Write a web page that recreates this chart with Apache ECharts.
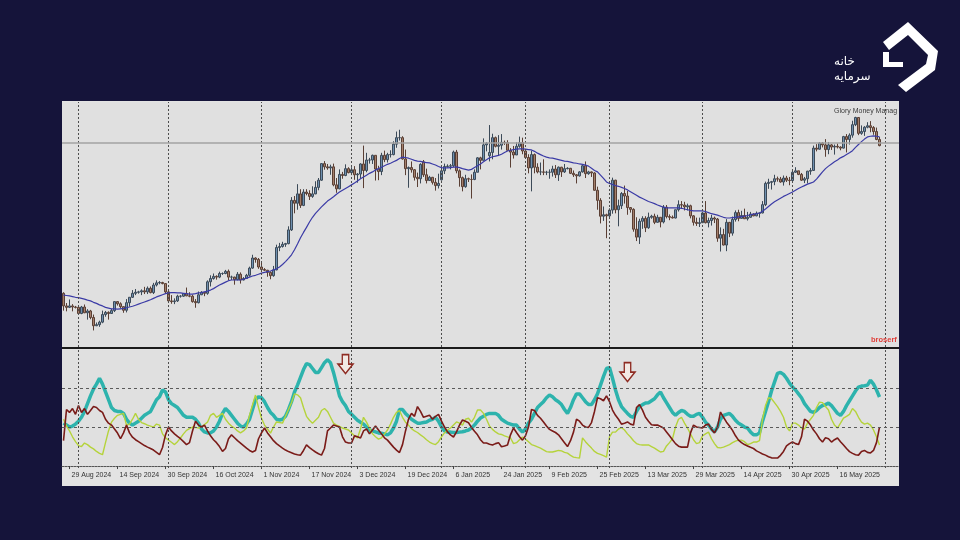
<!DOCTYPE html>
<html>
<head>
<meta charset="utf-8">
<script src="https://cdn.jsdelivr.net/npm/echarts/dist/echarts.min.js"></script>
<style>
html,body{margin:0;padding:0;background:#15143a;}
#chart{width:960px;height:540px;}
</style>
</head>
<body>
<div id="chart"></div>
<script>
// ---------- DATA (price in thousands USD, daily bars) ----------
const startDate = '2024-08-27';
const endDate = '2025-06-05';            // includes empty right-shift days
const skippedDates = ['2024-12-25', '2025-01-01', '2025-01-12', '2025-01-19'];
const monthStarts = ['2024-09-01','2024-10-01','2024-11-01','2024-12-01','2025-01-02','2025-02-01','2025-03-01','2025-04-01','2025-05-01','2025-06-01'];
const monthNames = ['Jan','Feb','Mar','Apr','May','Jun','Jul','Aug','Sep','Oct','Nov','Dec'];

// [open, high, low, close]
const ohlc = [
// Aug 27-31
[62.9,63.2,58.1,59.4],[59.4,60.2,57.9,59.0],[59.0,61.2,58.8,59.4],[59.4,59.9,57.9,59.1],[59.1,59.4,58.7,59.0],
// Sep
[59.0,59.1,57.2,57.3],[57.3,59.4,57.1,59.1],[59.1,59.8,57.4,57.5],[57.5,58.5,55.6,58.0],[58.0,58.3,55.7,56.2],
[56.2,57.0,52.6,53.9],[53.9,54.8,53.8,54.2],[54.2,55.3,53.6,54.9],[54.9,58.1,54.6,57.0],[57.0,58.0,56.4,57.6],
[57.6,57.9,55.6,57.3],[57.3,58.6,57.2,58.1],[58.1,60.6,57.7,60.6],[60.6,60.7,59.5,60.0],[60.0,60.4,58.7,59.2],
[59.2,59.3,57.5,58.2],[58.2,61.3,57.6,60.3],[60.3,61.8,59.2,61.8],[61.8,63.8,61.6,62.9],[62.9,64.1,62.4,63.2],
[63.2,63.6,62.8,63.3],[63.3,64.0,62.4,63.6],[63.6,64.7,62.7,63.3],[63.3,64.8,62.7,64.3],[64.3,64.8,62.9,63.1],
[63.1,65.8,62.7,65.2],[65.2,66.5,64.8,65.8],[65.8,66.3,65.4,65.9],[65.9,66.1,65.4,65.6],[65.6,65.7,62.9,63.3],
// Oct
[63.3,64.1,60.2,60.8],[60.8,62.4,60.0,60.6],[60.6,61.5,59.9,60.8],[60.8,62.5,60.5,62.1],[62.1,62.4,61.7,62.1],
[62.1,62.9,61.9,62.8],[62.8,64.5,62.1,62.2],[62.2,63.2,61.8,62.1],[62.1,62.5,60.3,60.6],[60.6,61.3,58.9,60.3],
[60.3,63.4,60.1,62.5],[62.5,63.5,62.4,63.2],[63.2,63.3,62.1,62.9],[62.9,66.5,62.5,66.1],[66.1,67.9,64.8,67.0],
[67.0,68.4,66.7,67.6],[67.6,67.9,66.7,67.4],[67.4,68.9,67.1,68.4],[68.4,68.7,68.0,68.4],[68.4,69.4,68.2,69.0],
[69.0,69.5,66.6,67.4],[67.4,67.8,66.6,67.4],[67.4,67.5,65.3,66.7],[66.7,68.8,66.5,68.2],[68.2,68.7,65.6,66.6],
[66.6,67.4,66.5,67.0],[67.0,68.3,66.9,67.9],[67.9,70.3,67.5,69.9],[69.9,73.6,69.7,72.7],[72.7,72.9,71.4,72.3],
[72.3,72.7,69.7,70.2],
// Nov
[70.2,71.6,68.8,69.5],[69.5,69.9,69.1,69.3],[69.3,69.4,67.5,68.7],[68.7,69.0,66.8,67.8],[67.8,70.5,67.5,69.4],
[69.4,76.4,69.3,75.6],[75.6,76.9,74.6,75.9],[75.9,77.2,75.6,76.5],[76.5,76.9,75.8,76.7],[76.7,81.5,76.5,80.5],
[80.5,89.6,80.2,88.7],[88.7,89.9,85.1,87.9],[87.9,93.2,86.1,90.5],[90.5,91.8,86.6,87.3],[87.3,91.8,87.1,91.0],
[91.0,91.8,90.1,90.6],[90.6,91.5,88.8,89.8],[89.8,92.6,89.4,90.5],[90.5,94.0,90.4,92.3],[92.3,94.9,91.5,94.3],
[94.3,99.0,94.1,98.9],[98.9,99.6,97.2,98.0],[98.0,98.8,97.2,97.7],[97.7,98.6,95.8,98.0],[98.0,98.9,92.6,93.0],
[93.0,94.9,90.8,91.9],[91.9,97.3,91.8,95.9],[95.9,96.6,94.7,95.6],[95.6,98.7,95.4,97.5],[97.5,97.9,96.2,96.4],
// Dec
[96.4,97.9,95.7,97.2],[97.2,98.2,94.4,95.8],[95.8,96.3,93.6,96.0],[96.0,99.0,94.7,98.8],[98.8,103.9,92.1,97.0],
[97.0,101.9,96.5,99.9],[99.9,100.5,98.9,99.9],[99.9,101.4,98.8,101.2],[101.2,101.2,94.2,97.4],[97.4,98.3,94.3,96.7],
[96.7,101.9,95.7,101.2],[101.2,102.5,99.3,100.0],[100.0,101.9,99.2,101.4],[101.4,102.6,100.6,101.4],[101.4,105.1,101.2,104.3],
[104.3,107.8,103.3,106.1],[106.1,108.3,105.3,106.1],[106.1,106.5,100.0,100.2],[100.2,102.8,95.7,97.5],[97.5,98.1,92.2,97.8],
[97.8,99.5,96.4,97.2],[97.2,97.4,94.2,95.1],[95.1,96.4,92.4,94.7],[94.7,99.0,93.4,98.7],[99.4,99.9,95.2,95.8],
[95.8,97.5,93.4,94.2],[94.2,95.5,94.1,95.1],[95.1,95.2,93.1,93.7],[93.7,94.9,91.4,92.8],[92.8,96.1,92.0,93.4],
// Jan
[94.4,97.8,94.2,96.9],[96.9,98.9,96.0,98.1],[98.1,98.7,97.8,98.2],[98.2,98.8,97.3,98.3],[98.3,102.5,97.9,102.1],
[102.1,102.7,96.2,96.9],[96.9,97.3,92.5,95.0],[95.0,95.3,91.2,92.5],[92.5,95.8,92.2,94.7],[94.7,95.0,93.8,94.6],
[94.5,95.9,89.2,94.5],[94.5,97.3,94.3,96.5],[96.5,100.7,96.5,100.5],[100.5,100.8,97.3,99.8],[99.8,105.9,99.8,104.1],
[104.1,104.9,102.3,104.5],[101.1,109.6,99.5,102.0],[102.0,107.2,100.1,106.1],[106.1,106.4,103.4,103.7],[103.7,106.8,101.2,104.0],
[104.0,107.1,102.8,104.8],[104.8,105.3,104.1,104.7],[104.7,105.4,102.5,102.6],[102.6,103.2,97.8,102.1],[102.1,103.8,100.3,101.3],
[101.3,104.8,101.3,103.7],[103.7,106.4,103.3,104.7],[104.7,106.1,101.5,102.4],
// Feb
[102.4,102.8,100.2,100.6],[100.6,101.5,96.2,97.7],[97.7,102.5,91.2,101.4],[101.4,101.7,96.2,97.9],[97.9,99.0,96.2,96.6],
[96.6,99.2,95.7,96.6],[96.6,100.1,95.7,96.5],[96.5,96.9,95.7,96.5],[96.5,97.3,94.7,96.5],[96.5,98.3,95.3,97.4],
[97.4,98.5,94.9,95.8],[95.8,98.1,94.1,97.9],[97.9,98.0,95.2,96.6],[96.6,98.8,96.3,97.5],[97.5,97.9,97.3,97.6],
[97.6,97.7,96.0,96.2],[96.2,97.0,95.2,95.8],[95.8,96.0,93.4,95.5],[95.5,96.8,95.3,96.6],[96.6,98.7,96.4,98.3],
[98.3,99.5,94.9,96.1],[96.1,96.9,95.8,96.6],[96.6,96.7,95.2,96.3],[96.3,96.5,91.4,91.5],[91.5,92.5,86.1,88.7],
[88.7,89.3,82.3,84.3],[84.3,87.0,83.0,84.7],[84.7,85.0,78.2,84.4],
// Mar
[84.4,86.5,83.7,86.0],[86.0,95.0,85.0,94.3],[94.3,94.4,85.1,86.1],[86.1,88.9,81.5,87.2],[87.2,91.0,86.3,90.6],
[90.6,92.8,87.8,89.9],[89.9,91.3,84.7,86.7],[86.7,86.8,85.3,86.2],[86.2,86.5,80.0,80.7],[80.7,84.0,77.4,78.5],
[78.5,83.6,76.6,82.9],[82.9,84.3,80.8,83.7],[83.7,84.3,79.9,81.1],[81.1,85.3,80.8,84.0],[84.0,84.7,83.6,84.3],
[84.3,85.0,82.1,82.6],[82.6,84.7,82.5,84.0],[84.0,84.0,81.2,82.7],[82.7,87.4,82.3,86.8],[86.8,87.4,83.7,84.2],
[84.2,84.8,83.2,84.0],[84.0,84.5,83.7,83.8],[83.8,86.1,83.7,86.1],[86.1,88.7,85.6,87.5],[87.5,88.5,86.3,87.4],
[87.4,88.3,85.9,86.9],[86.9,87.8,85.9,87.2],[87.2,87.5,83.7,84.4],[84.4,84.6,81.7,82.6],[82.6,83.9,81.6,82.3],
[82.3,83.9,81.3,82.5],
// Apr
[82.5,85.5,82.4,85.2],[85.2,88.5,82.3,82.5],[82.5,83.9,81.2,83.1],[83.1,84.7,81.7,83.8],[83.8,84.2,82.4,83.5],
[83.5,83.8,77.2,78.2],[78.2,81.2,74.5,79.2],[79.2,80.8,76.2,76.3],[76.3,83.5,74.6,82.6],[82.6,82.7,78.5,79.6],
[79.6,84.2,78.9,83.4],[83.4,85.9,82.8,85.3],[85.3,86.1,82.9,83.7],[83.7,85.8,83.7,84.5],[84.5,86.4,83.6,83.6],
[83.6,85.5,83.1,84.0],[84.0,85.5,83.9,84.9],[84.9,85.1,84.3,84.4],[84.4,85.6,84.3,85.1],[85.1,85.3,83.9,85.2],
[85.2,88.5,85.1,87.5],[87.5,93.9,87.1,93.4],[93.4,94.7,91.9,93.7],[93.7,94.1,91.7,93.9],[93.9,95.8,92.9,94.7],
[94.7,95.3,93.9,94.6],[94.6,95.2,93.6,93.8],[93.8,95.6,92.8,94.9],[94.9,95.5,93.8,94.3],[94.3,95.2,92.9,94.2],
// May
[94.2,97.4,94.1,96.5],[96.5,97.9,96.3,96.9],[96.9,96.9,95.7,95.9],[95.9,96.3,94.1,94.3],[94.3,95.2,93.5,94.7],
[94.7,96.9,93.4,96.8],[96.8,97.7,95.8,97.0],[97.0,103.9,96.9,103.2],[103.2,104.3,102.3,102.9],[102.9,104.9,102.8,104.6],
[104.6,104.9,103.4,104.1],[104.1,105.7,100.8,102.8],[102.8,104.9,101.5,104.1],[104.1,104.3,102.7,103.5],[103.5,104.2,101.4,103.7],
[103.7,104.5,103.1,103.5],[103.5,103.7,102.6,103.2],[103.2,106.6,103.1,106.4],[106.4,107.1,102.0,105.6],[105.6,107.3,104.2,106.8],
[106.8,110.8,106.1,109.7],[109.7,111.9,109.3,111.7],[111.7,111.8,106.8,107.3],[107.3,109.5,106.9,107.8],[107.8,109.3,106.6,109.0],
[109.0,110.4,108.7,109.4],[109.4,110.7,107.6,108.9],[108.9,109.3,106.9,107.8],[107.8,108.9,105.4,105.6],[105.6,106.3,103.7,103.9]
];

// moving average line
const maLine = [
62.4,62.3,62.2,62.0,61.8,61.7,61.5,61.3,61.0,60.8,
60.4,60.1,59.7,59.4,59.0,58.8,58.6,58.6,58.5,58.6,
58.7,58.9,59.1,59.3,59.6,59.9,60.2,60.5,60.8,61.1,
61.5,61.9,62.2,62.5,62.8,63.0,63.1,63.1,63.0,63.0,
62.9,62.8,62.7,62.7,62.8,63.0,63.1,63.3,63.5,63.8,
64.2,64.7,65.2,65.6,66.0,66.4,66.6,66.6,66.6,66.6,
66.8,67.1,67.4,67.7,67.9,68.2,68.5,68.7,68.9,69.1,
69.4,69.7,70.2,70.9,71.7,72.6,73.6,75.0,76.6,78.3,
79.8,81.2,82.7,84.0,85.1,86.0,86.9,87.7,88.5,89.1,
89.7,90.4,91.0,91.5,92.0,92.5,93.0,93.5,94.1,94.7,
95.2,95.7,96.2,96.6,97.1,97.5,97.9,98.3,98.7,99.0,
99.4,99.8,100.3,100.7,100.6,100.4,100.1,99.8,99.6,99.5,
99.3,99.2,99.1,98.8,98.5,98.1,97.8,97.7,97.7,97.8,
97.9,98.0,97.8,97.5,97.3,97.1,97.3,97.8,98.3,98.8,
99.4,100.0,100.5,100.8,101.0,101.2,101.5,102.0,102.4,102.6,
102.8,102.9,103.0,103.0,102.9,102.8,102.7,102.3,101.8,101.4,
101.0,100.7,100.5,100.4,100.2,100.0,99.8,99.6,99.5,99.3,
99.1,99.0,98.8,98.7,98.5,98.2,97.6,97.0,96.6,95.7,
94.8,93.8,93.4,93.1,92.8,92.6,92.3,92.0,91.6,91.1,
90.6,90.1,89.6,89.2,88.8,88.4,88.1,87.8,87.4,87.1,
86.8,86.6,86.6,86.6,86.6,86.6,86.5,86.3,86.1,85.9,
85.8,85.8,85.8,85.8,85.6,85.3,85.0,84.8,84.6,84.3,
84.0,83.8,83.8,83.9,84.0,84.1,84.2,84.3,84.5,84.7,
84.9,85.0,85.2,85.7,86.3,87.0,87.7,88.3,88.8,89.3,
89.8,90.2,90.6,91.0,91.5,92.0,92.4,92.8,93.2,93.5,
93.8,94.6,95.6,96.6,97.5,98.2,98.8,99.4,99.9,100.5,
100.9,101.4,101.9,102.5,103.4,104.2,105.0,105.7,106.3,106.5,
106.6,106.5,106.3
];

// indicator panel: main line (teal)
const mainLine = [
22,21,20,20.5,21.5,23,25,28,32,36,
39.5,42,45,42,38,34,30,28.5,28,28,
27,24,22,21,22,23,24.5,26,27,28,
31,34,35.5,39,38,34,32,31,30,28,
26,25,25,25,24,22,19,17.5,17,17,
18,20,23,27,29.5,28,26,24,22,20.5,
20,21.5,24,29,34,35.5,35,33,30,27.5,
26,24,23.6,24,25.5,29,33,38,41.5,45.5,
49.5,52.5,52,50,48,48,50.5,53,54.5,53,
48,42,36,33,31,28,26.5,25,23.5,22.5,
21.5,20,18.5,18,17.5,17,16.8,16.5,16,17,
19.5,23,29,29,27,25.5,24,23,22,22,
22.3,22.6,23.5,24,25,23,20,18,17.4,17.4,
17.2,17.2,17.4,17.6,18,18.5,19.5,21,23,24.6,
25.5,26.5,27,27,27,26,24,23,22,21.5,
21,21,19,17.4,19,22,24,27,30,31.5,
33,35,36.4,35.5,34,33,31.5,29,27,30,
34,37,37,35,33,31.5,31.5,34,37,41.5,
46,50,50.5,45,39,34,30.5,28.7,27,25.5,
25,28,30.5,31.5,32.3,32.5,33.5,34.5,36.5,38,
35,32.5,30,27.5,26,27.5,28.5,28,26.5,25.5,
25.5,26.5,27,25,22.5,21,19,17.5,20,24,
26,26.5,27,25.5,23.5,22,21,20,19.5,17.5,
16,16,17,23,28,33,38.5,43,47.5,48,
47,45,42.5,40.5,39,37,35,32,30,28,
27.5,28.5,30,31,31.5,32.3,31,29,27,26,
28,31,33.5,36,38.5,40.5,41,41.2,41.5,44,
42,39,35.4
];

// indicator panel: plus line (yellow-green)
const plusLine = [
24,20.5,18,15,12.5,10.5,10,11.8,11,9.7,
8.8,7.5,6.5,5.8,12,18,22.5,24.5,26,26.5,
27,21,21.5,24,27,24,22.3,21.7,21,20.5,
20,21.5,21,16.5,14.5,13.3,12.2,11,12.5,14.4,
16.5,18.3,19.2,20,19.8,19.5,20,21.3,22.5,26,
27,25,26,27,24,22,20.5,19.5,18,17,
18,19.5,26,31.3,36.4,30,24.5,21,19,16.9,
20,22.6,22.3,22,25.5,29,32.5,37,36.5,35,
30,25.5,23.5,22,23.5,25,28.5,29.5,28,25,
22,21,20.3,19.5,19,18.5,17,15.5,14.4,19,
25,22.5,19.5,16.5,15,13.8,14.5,16.5,18.5,21.5,
25,27.5,28.5,25,22.5,21,19.2,18,17.2,16,
14.9,13.5,12.3,11.5,11,12.5,15,17,18.5,19.5,
21,22.6,22,21,24,24.5,22.5,25,28.7,28.7,
27,24,20.5,18.8,17.5,16.5,16.2,15.5,15,14.4,
11.5,12,13.5,14.9,13.8,12.5,11,10.5,9.8,9.2,
8.3,7.4,7.2,7.2,7.6,8,7.8,7,6.6,5.5,
4.6,4.3,4.1,14.4,12.5,10.8,9.2,7.5,6.5,6,
5.3,4.6,15,17.4,17.4,19,19.7,18.5,16.5,14.9,
13,11.5,11,10.8,10.8,10.8,10,9.2,8.2,7.2,
7.5,10.3,12,14,20,24,25,22,19.5,16.5,
13.5,11.5,12,15.5,16.5,17.4,14,11.5,9.5,9.3,
9.7,10.3,11,12,12.8,13.3,13.3,12.5,11,11.5,
12.3,12.3,13,24,31,35,34.5,32.5,30.5,28,
25,20,18,22,22,21,19.5,19,22,24,
26,30,32.8,32.5,30.5,28.7,24,21,19.5,22,
24.6,25.5,26.5,29.5,28,25,22.5,21.5,22,21,
18.5,15,10.8
];

// indicator panel: minus line (dark red)
const minusLine = [
13,29,27.5,29.5,26.5,31,27.5,29.5,26.5,28.5,
30.5,30,28.5,27.5,24,22,21,19,16.9,14,
17,21,17,14.8,13.5,12.5,11.5,10.5,9.7,9,
8.2,7,5.8,9.5,16,20,18,16.5,15.2,14,
12.5,11,12,18,23,21,20,21,18,15.5,
13.5,12,10,7.5,9,14,16,14.5,13,11.8,
10.5,9.2,8,7.2,8,14,17,19.5,17,15,
13,11.5,10.3,9.2,8.2,7.4,6.8,6.2,5.8,5.6,
8,10.8,9.5,8.3,7.2,6.3,5.6,9,18,19.5,
21,20.5,20,15,12.3,11.8,11.8,15.5,15,14.4,
18,19,16.5,18.5,20.5,18.5,16.5,14.5,13.3,11.5,
9.7,8.2,6.9,11,18,24,27,25.5,30.5,28,
25,25.5,26,24,25.5,26.5,23,20,17.5,16,
14.9,17.5,21,23.6,23,22.2,19.8,17.8,16,13.5,
11.8,11.8,11.2,10.8,11.5,12,9.9,10.3,10.8,16,
19.5,17.2,15,13.3,15.5,20,29,28.5,26,24.5,
22.6,20.5,18.8,18,17.2,16,14,12,10,13,
17.4,24,23,21,20,19.8,22.3,28,35,34.5,
33.5,36,33,28.7,26,24,21.5,22,22.6,21.5,
21,30,31.5,28.7,25,23,21.2,21,21,20.3,
19.5,17.5,15.5,13.5,11.5,10.2,9.7,9.7,9.7,17,
21,20,19.8,19.5,21,21.5,18.8,17,20,27.7,
25,22.5,20.5,18.3,15.5,13.3,12,11,10.3,9.6,
9,7.8,7,6.2,5.6,4.8,4.2,4.1,4.1,5.5,
7.5,10.3,11.5,12.3,11.5,11,15,24,23,21,
18.5,16.5,14,12.3,14.5,14,12.3,13.5,14.4,12.5,
10.8,9,7.4,6.5,5.8,5.6,7.5,8,7,6.7,
8,12,20
];

const priceLevel = 104.7;          // horizontal line in price panel
const indicatorLevels = [20, 40];  // dashed levels in indicator panel
const arrowMarks = [               // down-arrow annotations in indicator panel
  { date: '2024-11-29', value: 52.3 },
  { date: '2025-03-07', value: 48.2 }
];

// ---------- build categories ----------
function fmt(d) {
  const m = d.getUTCMonth() + 1, day = d.getUTCDate();
  return d.getUTCFullYear() + '-' + (m < 10 ? '0' : '') + m + '-' + (day < 10 ? '0' : '') + day;
}
const dates = [];
for (let d = new Date(startDate + 'T00:00:00Z'); fmt(d) <= endDate; d.setUTCDate(d.getUTCDate() + 1)) {
  const s = fmt(d);
  if (skippedDates.indexOf(s) === -1) dates.push(s);
}
const candleData = ohlc.map(r => [r[0], r[3], r[2], r[1]]);
const labelEvery = 16, labelStart = 2;
const showLabel = (i) => i >= labelStart && (i - labelStart) % labelEvery === 0 && i < ohlc.length - 8;
function labelText(v) {
  const p = v.split('-');
  return (+p[2]) + ' ' + monthNames[+p[1] - 1] + ' ' + p[0];
}

const gridDot = { color: '#4d4d4d', type: [2, 2], width: 1 };
const vLines = monthStarts.map(s => ({ xAxis: s, lineStyle: gridDot }));

const chart = echarts.init(document.getElementById('chart'), null, { renderer: 'canvas' });
chart.setOption({
  animation: false,
  backgroundColor: '#15143a',
  textStyle: { fontFamily: 'Liberation Sans' },
  grid: [
    { left: 62, top: 102, width: 837, height: 245, show: true, backgroundColor: '#e0e0e0', borderWidth: 0 },
    { left: 62, top: 350, width: 837, height: 118, show: true, backgroundColor: '#e0e0e0', borderWidth: 0 }
  ],
  xAxis: [
    { type: 'category', gridIndex: 0, data: dates, boundaryGap: true,
      axisLine: { show: false }, axisTick: { show: false }, axisLabel: { show: false }, splitLine: { show: false } },
    { type: 'category', gridIndex: 1, data: dates, boundaryGap: true,
      axisLine: { show: true, lineStyle: { color: '#555', type: [2, 1], width: 1 } },
      axisTick: { show: true, interval: (i) => showLabel(i), alignWithLabel: true, length: 3, lineStyle: { color: '#444' } },
      axisLabel: { interval: (i) => showLabel(i), formatter: labelText, align: 'left', fontSize: 7, color: '#333',
                   margin: 4, padding: [0, 0, 0, 2], fontFamily: 'Liberation Sans' },
      splitLine: { show: false } }
  ],
  yAxis: [
    { type: 'value', gridIndex: 0, min: 48, max: 116, show: false },
    { type: 'value', gridIndex: 1, min: -1, max: 59.5, show: false }
  ],
  series: [
    { type: 'candlestick', name: 'Price', xAxisIndex: 0, yAxisIndex: 0, data: candleData, barWidth: 2,
      itemStyle: { color: '#6f90b0', color0: '#a47f6b', borderColor: '#3c4a58', borderColor0: '#5a3f34', borderWidth: 1 } },
    { type: 'line', name: 'MA', xAxisIndex: 0, yAxisIndex: 0, data: maLine, showSymbol: false, silent: true,
      lineStyle: { color: '#3b3ba6', width: 1.2 },
      markLine: { silent: true, symbol: ['none', 'none'], label: { show: false },
        data: vLines.concat([{ yAxis: priceLevel, lineStyle: { color: '#a3a3a3', type: 'solid', width: 1.5 } }]) } },
    { type: 'line', name: 'Main', xAxisIndex: 1, yAxisIndex: 1, data: mainLine, showSymbol: false, silent: true,
      lineStyle: { color: '#2db3ad', width: 3.5 },
      markLine: { silent: true, symbol: ['none', 'none'], label: { show: false },
        data: vLines.concat(indicatorLevels.map(v => ({ yAxis: v, lineStyle: { color: '#5a5a5a', type: [3, 3], width: 1 } }))) },
      markPoint: { silent: true, symbol: 'path://M4,0 L10,0 L10,9 L14,9 L7,18 L0,9 L4,9 Z', symbolSize: [15, 19],
        symbolKeepAspect: false, label: { show: false },
        itemStyle: { color: '#f2e9e4', borderColor: '#8e2b22', borderWidth: 1.5 },
        data: arrowMarks.map(a => ({ coord: [a.date, a.value] })) } },
    { type: 'line', name: 'Plus', xAxisIndex: 1, yAxisIndex: 1, data: plusLine, showSymbol: false, silent: true,
      lineStyle: { color: '#b5d33b', width: 1.4 } },
    { type: 'line', name: 'Minus', xAxisIndex: 1, yAxisIndex: 1, data: minusLine, showSymbol: false, silent: true,
      lineStyle: { color: '#7a1b18', width: 1.6 } }
  ],
  graphic: [
    { type: 'rect', z: -10, shape: { x: 62, y: 101, width: 837, height: 385 }, style: { fill: '#e3e3e3' } },
    { type: 'rect', z: 100, shape: { x: 62, y: 347, width: 837, height: 2 }, style: { fill: '#1b1b1b' } },
    { type: 'text', z: 100, style: { x: 834, y: 108, text: 'Glory Money Manag', fill: '#3a3a3a', fontSize: 7, fontFamily: 'Liberation Sans' } },
    { type: 'text', z: 100, style: { x: 871, y: 336, text: 'broserf', fill: '#e0403a', fontSize: 7.5, fontWeight: 'bold', fontFamily: 'Liberation Sans' } },
    // logo
    { type: 'polygon', z: 100, shape: { points: [[883,42],[908,22],[938,51],[935,70],[906,92],[898,85],[926,64],[928,55],[908,35],[889,50]] }, style: { fill: '#ffffff' } },
    { type: 'polygon', z: 100, shape: { points: [[883,52],[889,52],[889,62],[903,62],[903,67],[883,67]] }, style: { fill: '#ffffff' } },
    { type: 'text', z: 100, style: { x: 834, y: 56, text: 'خانه', fill: '#ffffff', fontSize: 12, fontFamily: 'DejaVu Sans' } },
    { type: 'text', z: 100, style: { x: 834, y: 71, text: 'سرمایه', fill: '#ffffff', fontSize: 12, fontFamily: 'DejaVu Sans' } }
  ]
});
</script>
</body>
</html>
